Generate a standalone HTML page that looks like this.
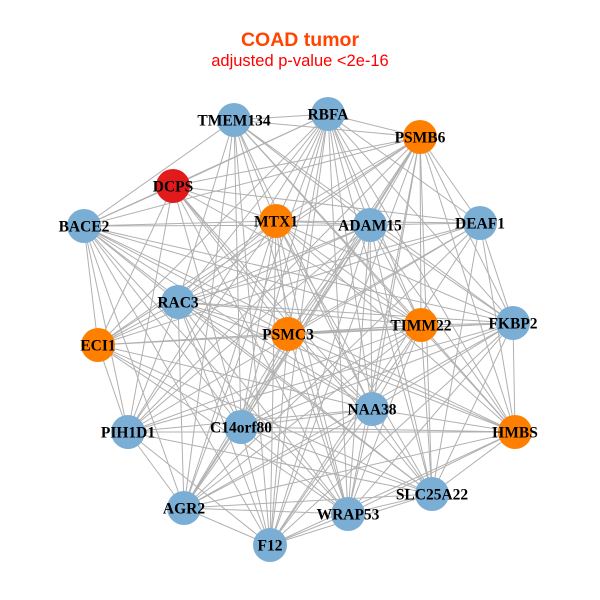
<!DOCTYPE html>
<html><head><meta charset="utf-8"><style>
html,body{margin:0;padding:0;background:#fff;width:600px;height:600px;overflow:hidden}
svg{display:block}
.l{font-family:"Liberation Serif",serif;font-weight:bold;font-size:15.5px;fill:#000;text-anchor:middle;dominant-baseline:central}
</style></head><body>
<svg id="s" width="600" height="600" xmlns="http://www.w3.org/2000/svg">
<g id="e" stroke="#b0b0b0" stroke-width="1"></g>
<g id="n" stroke="none"></g>
<text x="300" y="46" text-anchor="middle" font-family="Liberation Sans,sans-serif" font-weight="bold" font-size="19.5" fill="#ff4500">COAD tumor</text>
<text x="300" y="66" text-anchor="middle" font-family="Liberation Sans,sans-serif" font-size="16.5" fill="#ff0000">adjusted p-value &lt;2e-16</text>
<g id="t">
<text class="l" x="234" y="121">TMEM134</text>
<text class="l" x="328" y="115">RBFA</text>
<text class="l" x="420" y="138">PSMB6</text>
<text class="l" x="173" y="187">DCPS</text>
<text class="l" x="276" y="222">MTX1</text>
<text class="l" x="370" y="226">ADAM15</text>
<text class="l" x="480" y="224">DEAF1</text>
<text class="l" x="84" y="227">BACE2</text>
<text class="l" x="178" y="303">RAC3</text>
<text class="l" x="288" y="335">PSMC3</text>
<text class="l" x="421" y="326">TIMM22</text>
<text class="l" x="513" y="324">FKBP2</text>
<text class="l" x="98" y="346">ECI1</text>
<text class="l" x="372" y="410">NAA38</text>
<text class="l" x="515" y="433">HMBS</text>
<text class="l" x="128" y="433">PIH1D1</text>
<text class="l" x="241" y="428">C14orf80</text>
<text class="l" x="184" y="509">AGR2</text>
<text class="l" x="432" y="495">SLC25A22</text>
<text class="l" x="348" y="515">WRAP53</text>
<text class="l" x="270" y="546">F12</text>
</g>
</svg>
<script>
var N=[[234,120,'b'],[328,114,'b'],[420,137,'o'],[173,186,'r'],[276,221,'o'],[370,225,'b'],[480,223,'b'],[84,226,'b'],[178,302,'b'],[288,334,'o'],[421,325,'o'],[513,323,'b'],[98,345,'o'],[372,409,'b'],[515,432,'o'],[128,432,'b'],[241,427,'b'],[184,508,'b'],[432,494,'b'],[348,514,'b'],[270,545,'b']];
var C={b:'#7aaed4',o:'#ff8000',r:'#e31a1c'};
var ns='http://www.w3.org/2000/svg',e=document.getElementById('e'),n=document.getElementById('n');
for(var i=0;i<N.length;i++)for(var j=i+1;j<N.length;j++){if((i*7+j*3)%9==0)continue;var l=document.createElementNS(ns,'line');l.setAttribute('x1',N[i][0]);l.setAttribute('y1',N[i][1]);l.setAttribute('x2',N[j][0]);l.setAttribute('y2',N[j][1]);e.appendChild(l);}
N.forEach(function(p){var c=document.createElementNS(ns,'circle');c.setAttribute('cx',p[0]);c.setAttribute('cy',p[1]);c.setAttribute('r',17);c.setAttribute('fill',C[p[2]]);n.appendChild(c);});
</script>
</body></html>
